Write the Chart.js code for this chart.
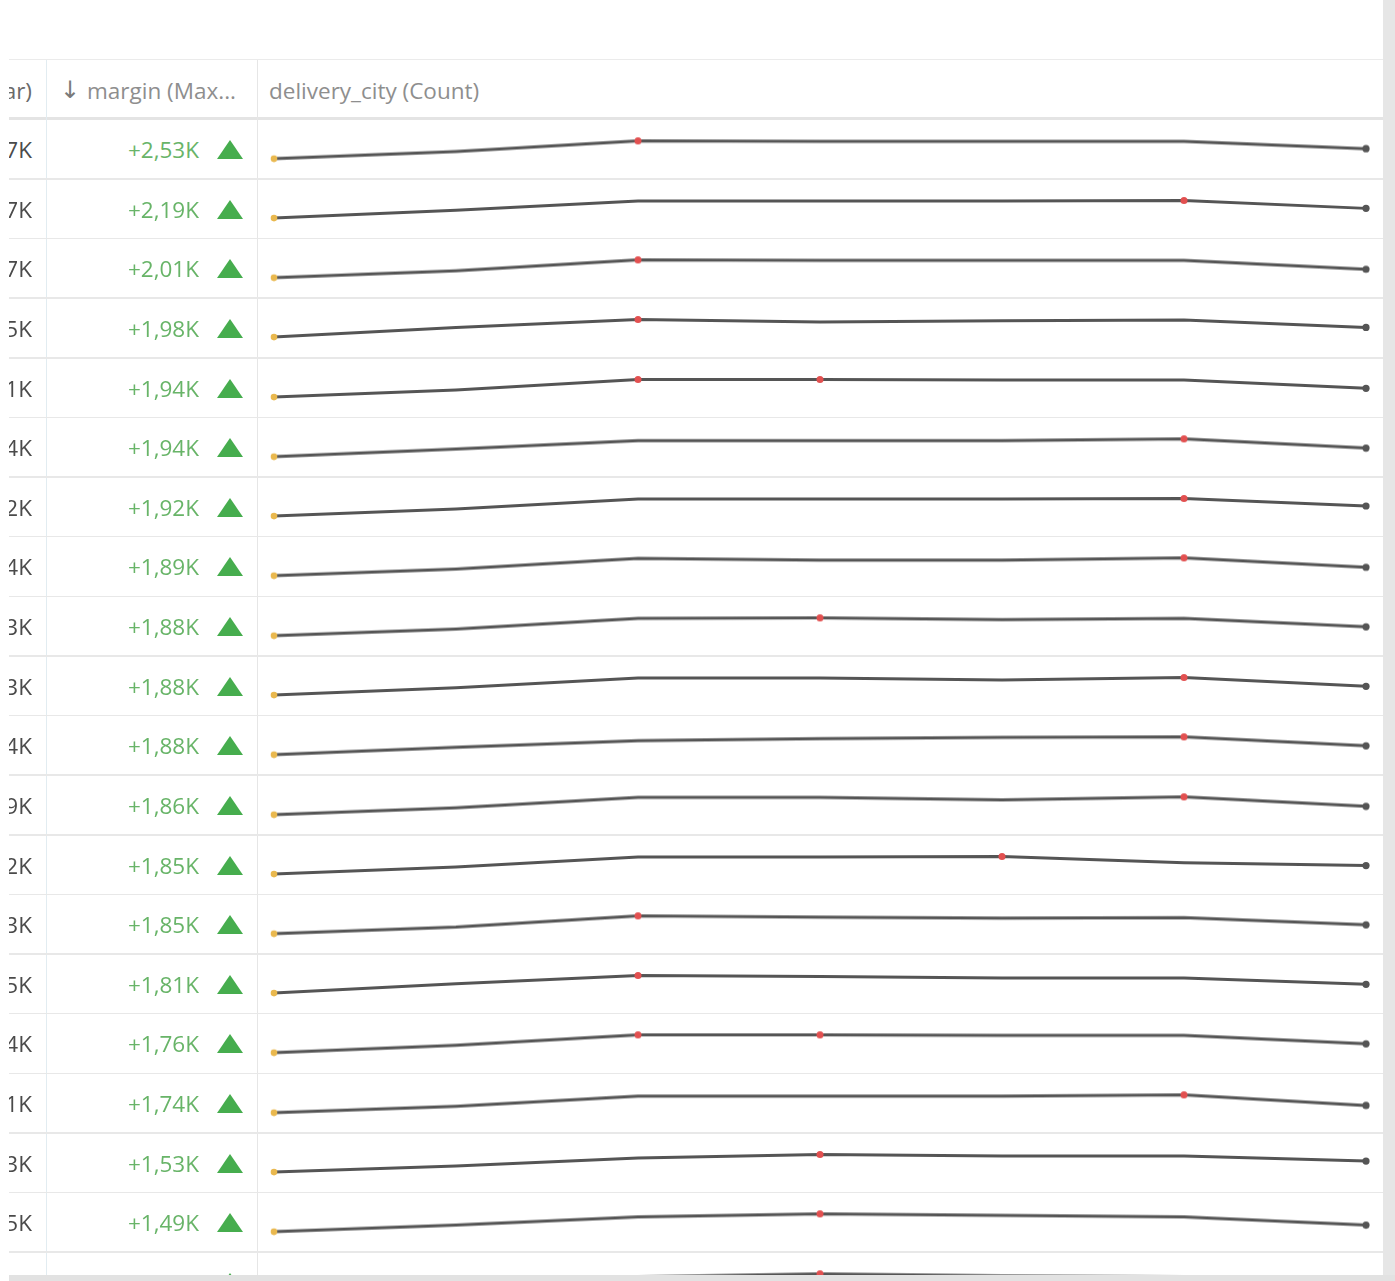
<!DOCTYPE html>
<html>
<head>
<meta charset="utf-8">
<script src="https://cdn.jsdelivr.net/npm/chart.js@4"></script>
<style>
  body { margin: 0; width: 1395px; height: 1281px; background: #fff; position: relative; overflow: hidden; font-family: "Open Sans", "Noto Sans", sans-serif; }
  #wrap { position: absolute; left: 9px; top: 0; width: 1374px; height: 1275px; overflow: hidden; background: #fff; }
  .hline { position: absolute; left: 0; width: 1374px; background: #e8e8e8; }
  .vline { position: absolute; top: 60px; width: 1px; height: 1220px; }
  .hdr { position: absolute; top: 62px; height: 57px; line-height: 57px; font-size: 22.5px; color: #8e8e8e; white-space: nowrap; }
  .row { position: absolute; left: 0; width: 1374px; }
  .prev { position: absolute; left: -100px; width: 123px; text-align: right; font-size: 22.5px; color: #4a4a4a; white-space: nowrap; }
  .marg { position: absolute; left: 40px; width: 150px; text-align: right; font-size: 22.5px; color: #68b468; }
  .tri { position: absolute; left: 208px; width: 0; height: 0; border-left: 13.5px solid transparent; border-right: 13.5px solid transparent; border-bottom: 19px solid #46ad4e; }
  .spark { position: absolute; left: 261px; width: 1100px; }
</style>
</head>
<body>
<div id="wrap">
  <div class="hline" style="top:59px;height:1px;background:#ebebeb"></div>
  <div class="hdr" style="left:-100px;width:123px;text-align:right;color:#6a6a6a">ar)</div>
  <div class="hdr" style="left:51px;font-family:'DejaVu Sans';font-size:24px;color:#7a7a7a">↓</div>
  <div class="hdr" style="left:78px">margin (Max...</div>
  <div class="hdr" style="left:260px">delivery_city (Count)</div>
  <div class="hline" style="top:117px;height:3px;background:#e4e4e4"></div>
  <div class="vline" style="left:37px;background:#e2ecf1"></div>
  <div class="vline" style="left:248px;background:#e6e6e6"></div>
  <div id="rows"></div>
</div>
<div style="position:absolute;left:1383px;top:0;width:12px;height:1281px;background:#e6e6e6"></div>
<div style="position:absolute;left:9px;top:1275px;width:1386px;height:6px;background:#e2e2e2"></div>

<script>
// left column, cut off by the scroll position
const prevValues = ['7K', '7K', '7K', '5K', '1K', '4K', '2K', '4K', '3K', '3K', '4K', '9K', '2K', '3K', '5K', '4K', '1K', '3K', '5K', '']
const margins = ['+2,53K', '+2,19K', '+2,01K', '+1,98K', '+1,94K', '+1,94K', '+1,92K', '+1,89K', '+1,88K', '+1,88K',
                 '+1,88K', '+1,86K', '+1,85K', '+1,85K', '+1,81K', '+1,76K', '+1,74K', '+1,53K', '+1,49K', '']

const periods = ['1', '2', '3', '4', '5', '6', '7']

// delivery_city counts per row
const city01 = [58, 74, 97, 96, 96, 96, 80]
const city02 = [55, 72, 92, 92, 92, 93, 76]
const city03 = [57, 72, 95, 94, 94, 94, 75]
const city04 = [60, 76, 89, 85, 87, 88, 76]
const city05 = [56, 72, 96, 96, 95, 95, 76]
const city06 = [52, 69, 87, 87, 87, 91, 71]
const city07 = [50, 66, 89, 89, 89, 90, 73]
const city08 = [54, 69, 93, 89, 89, 94, 73]
const city09 = [55, 70, 94, 95, 91, 94, 75]
const city10 = [53, 68, 88, 88, 84, 89, 71]
const city11 = [52, 68, 82, 86, 89, 90, 71]
const city12 = [54, 68, 89, 89, 84, 90, 71]
const city13 = [54, 69, 90, 90, 91, 78, 72]
const city14 = [56, 71, 96, 93, 91, 92, 76]
const city15 = [55, 73, 89, 87, 84, 84, 72]
const city16 = [53, 69, 91, 91, 90, 90, 72]
const city17 = [52, 66, 88, 88, 88, 91, 68]
const city18 = [50, 62, 78, 85, 82, 82, 72]
const city19 = [52, 65, 81, 87, 84, 81, 65]
const city20 = [50, 63, 80, 86, 82, 80, 66]

const cityCounts = [city01, city02, city03, city04, city05, city06, city07, city08, city09, city10,
                    city11, city12, city13, city14, city15, city16, city17, city18, city19, city20]

const rowTop = 120
const rowH = 59.63
const rowsEl = document.getElementById('rows')

cityCounts.forEach((counts, i) => {
    const top = rowTop + i * rowH
    const row = document.createElement('div')
    row.className = 'row'
    row.style.top = top + 'px'
    row.style.height = rowH + 'px'
    row.innerHTML = `
        <div class="prev" style="top:0;height:${rowH}px;line-height:${rowH}px">${prevValues[i]}</div>
        <div class="marg" style="top:0;height:${rowH}px;line-height:${rowH}px">${margins[i]}</div>
        <div class="tri" style="top:20px"></div>
        <div class="spark" style="top:0;height:${rowH}px"><canvas></canvas></div>
        <div class="hline" style="top:${rowH - 1.5}px;height:1.5px"></div>`
    rowsEl.appendChild(row)

    const lo = Math.min(...counts)
    const hi = Math.max(...counts)
    const last = counts.length - 1
    const pointColor = counts.map((v, k) => k === 0 ? '#e9b84e' : k === last ? '#555' : v === hi ? '#e25050' : 'rgba(0,0,0,0)')
    const pointSize = counts.map((v, k) => k === 0 ? 3.3 : k === last ? 3.6 : v === hi ? 3.5 : 0)

    new Chart(row.querySelector('canvas'), {
        type: 'line',
        data: {
            labels: periods,
            datasets: [{
                data: counts,
                borderColor: '#555',
                borderWidth: 3,
                tension: 0,
                pointBackgroundColor: pointColor,
                pointBorderWidth: 0,
                pointRadius: pointSize,
                clip: false
            }]
        },
        options: {
            responsive: true,
            maintainAspectRatio: false,
            animation: false,
            events: [],
            layout: { padding: { left: 4, right: 4, top: 20.5, bottom: 21.5 } },
            plugins: { legend: { display: false }, tooltip: { enabled: false } },
            scales: {
                x: { display: false, offset: false },
                y: { display: false, min: lo, max: hi }
            }
        }
    })
})
</script>
</body>
</html>
